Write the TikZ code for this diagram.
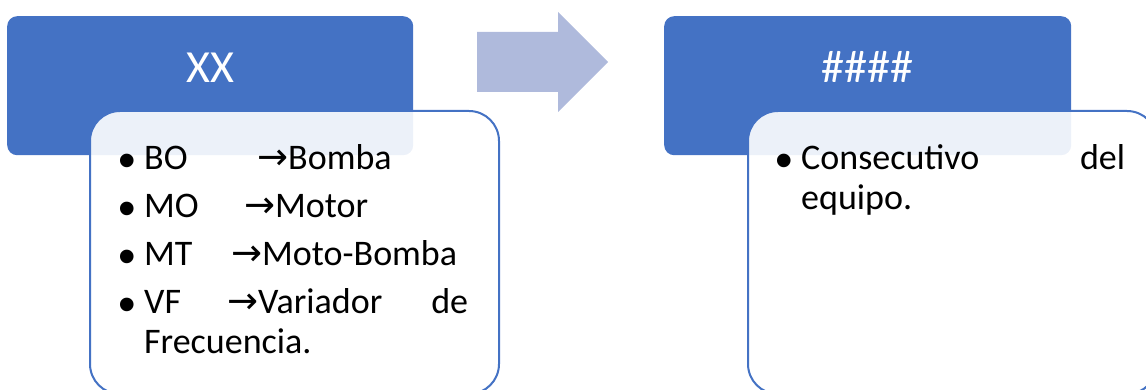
\documentclass[tikz,border=0pt]{standalone}
\usepackage{fontspec}
\setmainfont{Carlito}
\newfontfamily\arrowfont{DejaVu Sans}
\newfontfamily\dotfont{Liberation Sans}
\definecolor{accent}{HTML}{4472C4}
\definecolor{arrowfill}{HTML}{AFBADC}
\newcommand{\toarrow}{\makebox[31pt][l]{\arrowfont\fontsize{37}{37}\selectfont →}}
\newcommand{\itemdot}{\llap{\raisebox{-8pt}{\dotfont\fontsize{50}{50}\selectfont •}\hspace{8pt}}}

\begin{document}
\begin{tikzpicture}[x=1pt, y=-1pt,
 headbox/.style={fill=accent, rounded corners=10pt, inner sep=0, text=white, font=\fontsize{46}{50}\selectfont, text height=66pt, text depth=73pt, anchor=north west},
 listbox/.style={draw=accent, line width=2pt, fill=white, fill opacity=.9, rounded corners=30pt, inner sep=0, minimum width=409pt, minimum height=283pt, anchor=north west},
 item/.style={anchor=base west, inner sep=0, font=\fontsize{36}{40}\selectfont}]
\useasboundingbox (0,0) rectangle (1146,390);
\node[headbox, minimum width=406pt] (headXX) at (7,16) {XX};
\node[listbox] (listXX) at (89,110) {};
\fill[arrowfill] (477,32) -- (558,32) -- (558,12) -- (608,62) -- (558,112) -- (558,92) -- (477,92) -- cycle;
\node[headbox, minimum width=407pt] (headNum) at (664,16) {\#\#\#\#};
\node[listbox] (listNum) at (747,110) {};
\foreach \code/\gap/\name [count=\i] in {BO/113/Bomba, MO/100/Motor, MT/87/Moto-Bomba}
 \node[item] (code\i) at (144, 122.3+47.7*\i) {\itemdot\makebox[\gap pt][l]{\code}\toarrow\name};
\node[item] (code4) at (144,313) {\itemdot\makebox[324pt][l]{\makebox[83pt][l]{VF}\toarrow Variador\hfill de}};
\node[item] (code4b) at (144,353) {Frecuencia.};
\node[item] (consec) at (801,170) {\itemdot\makebox[324pt][l]{Consecutivo\hfill del}};
\node[item] (equipo) at (801,210) {equipo.};
\end{tikzpicture}
\end{document}
